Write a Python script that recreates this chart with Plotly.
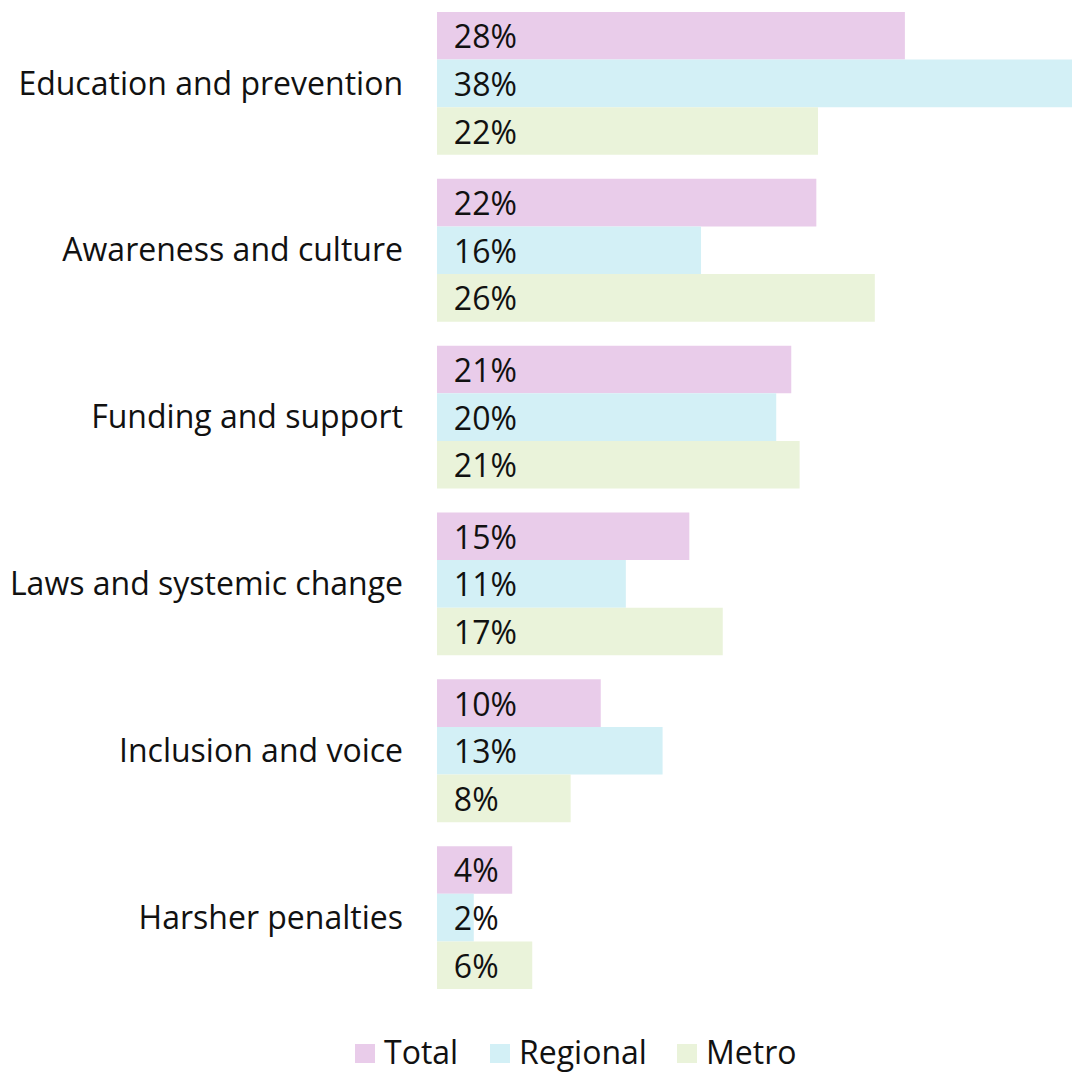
import plotly.graph_objects as go

categories = ["Education and prevention", "Awareness and culture", "Funding and support",
              "Laws and systemic change", "Inclusion and voice", "Harsher penalties"]
series_names = ["Total", "Regional", "Metro"]
total = [28.0, 22.7, 21.2, 15.1, 9.8, 4.5]
regional = [38.0, 15.8, 20.3, 11.3, 13.5, 2.2]
metro = [22.8, 26.2, 21.7, 17.1, 8.0, 5.7]
total_labels = ["28%", "22%", "21%", "15%", "10%", "4%"]
regional_labels = ["38%", "16%", "20%", "11%", "13%", "2%"]
metro_labels = ["22%", "26%", "21%", "17%", "8%", "6%"]
colors = ["#E9CCEA", "#D3F0F6", "#EAF3DA"]

FONT = "Open Sans"
W, H = 1072, 1074
ML, MR, MT, MB = 437, 0, 0, 73

fig = go.Figure()
for name, vals, labs, col in zip(series_names, [total, regional, metro],
                                  [total_labels, regional_labels, metro_labels], colors):
    fig.add_trace(go.Bar(
        y=categories, x=vals, name=name, orientation="h",
        marker=dict(color=col, line=dict(width=0)),
        text=labs, texttemplate="\u2009\u2009\u200a%{text}", textangle=0,
        textposition="inside", insidetextanchor="start", constraintext="none",
        textfont=dict(family=FONT, size=32, color="#111111"),
        hoverinfo="skip", showlegend=False,
    ))

# manual legend (pixel positions converted to paper coordinates)
pw, ph = W - ML - MR, H - MT - MB
def px(x):
    return (x - ML) / pw
def py(y):
    return (H - MB - y) / ph

legend_x = [355, 490, 677]
shapes, annots = [], []
for name, col, lx in zip(series_names, colors, legend_x):
    shapes.append(dict(type="rect", xref="paper", yref="paper",
                       x0=px(lx), x1=px(lx + 20), y0=py(1063), y1=py(1044),
                       fillcolor=col, line=dict(width=0), layer="above"))
    annots.append(dict(text=name, xref="paper", yref="paper", x=px(lx + 27), y=py(1051),
                       xanchor="left", yanchor="middle", showarrow=False,
                       font=dict(family=FONT, size=32, color="#111111")))

fig.update_layout(
    width=W, height=H,
    barmode="group", bargap=0.144, bargroupgap=0,
    plot_bgcolor="white", paper_bgcolor="white",
    margin=dict(l=ML, r=MR, t=MT, b=MB),
    font=dict(family=FONT, size=32, color="#111111"),
    showlegend=False,
    shapes=shapes, annotations=annots,
)
fig.update_xaxes(range=[0, 38], visible=False, showgrid=False, zeroline=False)
fig.update_yaxes(autorange="reversed", showgrid=False, zeroline=False, showline=False,
                 ticks="", ticklabelstandoff=33,
                 tickfont=dict(family=FONT, size=32, color="#111111"))

fig.write_html("out.html")
